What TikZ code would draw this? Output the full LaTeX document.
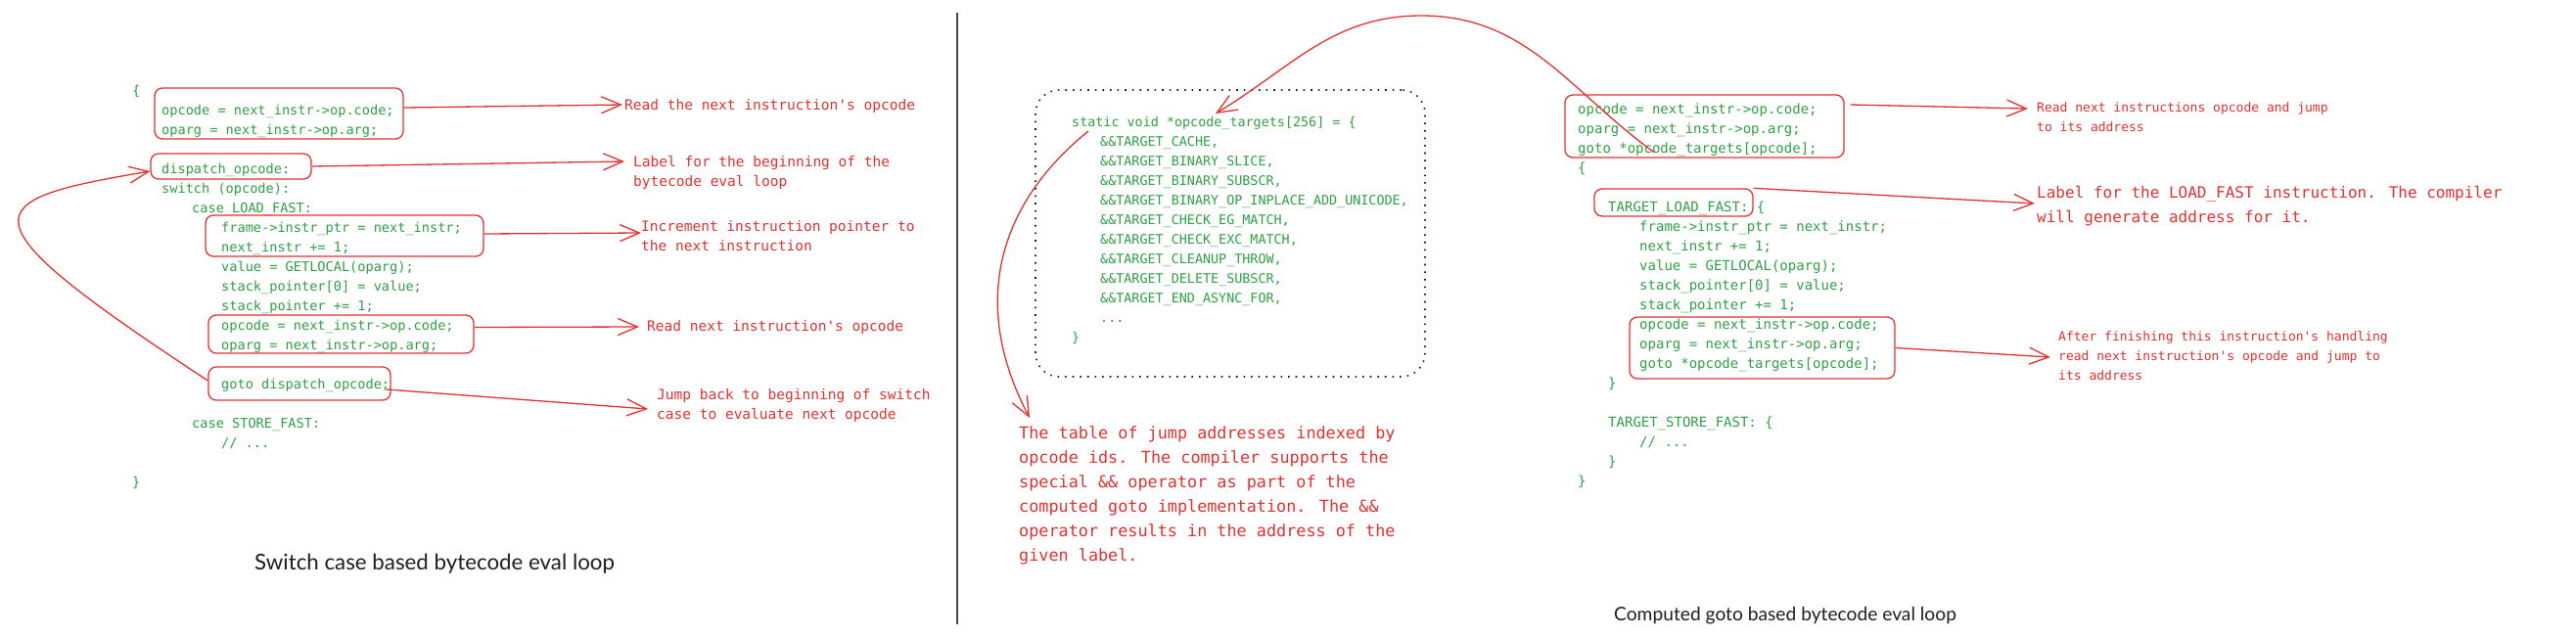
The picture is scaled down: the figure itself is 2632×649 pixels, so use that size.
\documentclass[tikz,border=0pt]{standalone}
\usepackage{fontspec}
\usepackage{xcolor}
\usepackage{tikz}
\usetikzlibrary{arrows.meta, positioning}
\newfontfamily\monofnt{DejaVu Sans Mono}[Ligatures=TeXOff]
\newfontfamily\titlefnt{Lato}
\definecolor{codegreen}{RGB}{47, 158, 68}
\definecolor{notered}{RGB}{224, 49, 49}
\definecolor{inkblack}{RGB}{30, 30, 30}
\definecolor{rulegray}{RGB}{70, 70, 70}

\begin{document}
\begin{tikzpicture}[
        x=1pt, y=1pt,
        code/.style={anchor=north west, inner sep=0pt, align=left, text=codegreen},
        note/.style={anchor=north west, inner sep=0pt, align=left, text=notered},
        markbox/.style={draw=notered, line width=1.3pt, rounded corners=8pt, inner sep=0pt},
        tablebox/.style={draw=inkblack, line width=1.6pt, dash pattern=on 1.6pt off 6pt, rounded corners=24pt, inner sep=0pt},
        pointer/.style={draw=notered, line width=1.3pt, -{Straight Barb[length=20pt, width=17pt]}},
        title/.style={anchor=west, inner sep=0pt, text=inkblack}
    ]
    \useasboundingbox (0,0) rectangle (2632,-649);

    % Switch case version
    \node[code, font=\monofnt\fontsize{13.6}{20}\selectfont] (lcode) at (135,-83) {%
        \strut\{\\
        \hspace*{30pt}opcode = next\_instr->op.code;\\
        \hspace*{30pt}oparg = next\_instr->op.arg;\\
        \strut\\
        \hspace*{30pt}dispatch\_opcode:\\
        \hspace*{30pt}switch (opcode):\\
        \hspace*{61pt}case LOAD\_FAST:\\
        \hspace*{91pt}frame->instr\_ptr = next\_instr;\\
        \hspace*{91pt}next\_instr += 1;\\
        \hspace*{91pt}value = GETLOCAL(oparg);\\
        \hspace*{91pt}stack\_pointer[0] = value;\\
        \hspace*{91pt}stack\_pointer += 1;\\
        \hspace*{91pt}opcode = next\_instr->op.code;\\
        \hspace*{91pt}oparg = next\_instr->op.arg;\\
        \strut\\
        \hspace*{91pt}goto dispatch\_opcode;\\
        \strut\\
        \hspace*{61pt}case STORE\_FAST:\\
        \hspace*{91pt}// ...\\
        \strut\\
        \}};

    \node[note, font=\monofnt\fontsize{14.5}{20}\selectfont] (a1) at (638,-98) {\strut Read the next instruction's opcode};
    \node[note, font=\monofnt\fontsize{14.5}{20}\selectfont] (a2) at (647,-156) {\strut Label for the beginning of the\\bytecode eval loop};
    \node[note, font=\monofnt\fontsize{14.5}{20}\selectfont] (a3) at (655,-222) {\strut Increment instruction pointer to\\the next instruction};
    \node[note, font=\monofnt\fontsize{14.5}{20}\selectfont] (a4) at (661,-324) {\strut Read next instruction's opcode};
    \node[note, font=\monofnt\fontsize{14.5}{20}\selectfont] (a5) at (671,-394) {\strut Jump back to beginning of switch\\case to evaluate next opcode};

    \node[title, font=\titlefnt\fontsize{22.3}{26}\selectfont] (t1) at (260,-576) {Switch case based bytecode eval loop};

    % Divider
    \draw[rulegray, line width=1.5pt] (978,-13) -- (978,-638);

    % Jump table
    \node[tablebox, minimum width=398, minimum height=293] (tabbox) at (1257,-238.5) {};
    \node[code, font=\monofnt\fontsize{13.4}{20}\selectfont] (tcode) at (1095,-115) {%
        \strut static void *opcode\_targets[256] = \{\\
        \hspace*{29pt}\&\&TARGET\_CACHE,\\
        \hspace*{29pt}\&\&TARGET\_BINARY\_SLICE,\\
        \hspace*{29pt}\&\&TARGET\_BINARY\_SUBSCR,\\
        \hspace*{29pt}\&\&TARGET\_BINARY\_OP\_INPLACE\_ADD\_UNICODE,\\
        \hspace*{29pt}\&\&TARGET\_CHECK\_EG\_MATCH,\\
        \hspace*{29pt}\&\&TARGET\_CHECK\_EXC\_MATCH,\\
        \hspace*{29pt}\&\&TARGET\_CLEANUP\_THROW,\\
        \hspace*{29pt}\&\&TARGET\_DELETE\_SUBSCR,\\
        \hspace*{29pt}\&\&TARGET\_END\_ASYNC\_FOR,\\
        \hspace*{29pt}...\\
        \}};
    \node[note, font=\monofnt\fontsize{16.8}{25}\selectfont] (tnote) at (1041,-431) {%
        \strut The table of jump addresses indexed by\\
        opcode ids. The compiler supports the\\
        special \&\& operator as part of the\\
        computed goto implementation. The \&\&\\
        operator results in the address of the\\
        given label.};

    % Computed goto version
    \node[code, font=\monofnt\fontsize{14}{20}\selectfont] (rcode) at (1612,-102) {%
        \strut opcode = next\_instr->op.code;\\
        oparg = next\_instr->op.arg;\\
        goto *opcode\_targets[opcode];\\
        \{\\
        \strut\\
        \hspace*{31pt}TARGET\_LOAD\_FAST: \{\\
        \hspace*{63pt}frame->instr\_ptr = next\_instr;\\
        \hspace*{63pt}next\_instr += 1;\\
        \hspace*{63pt}value = GETLOCAL(oparg);\\
        \hspace*{63pt}stack\_pointer[0] = value;\\
        \hspace*{63pt}stack\_pointer += 1;\\
        \hspace*{63pt}opcode = next\_instr->op.code;\\
        \hspace*{63pt}oparg = next\_instr->op.arg;\\
        \hspace*{63pt}goto *opcode\_targets[opcode];\\
        \hspace*{31pt}\}\\
        \strut\\
        \hspace*{31pt}TARGET\_STORE\_FAST: \{\\
        \hspace*{63pt}// ...\\
        \hspace*{31pt}\}\\
        \}};

    \node[note, font=\monofnt\fontsize{13}{20}\selectfont] (n1) at (2081,-100.5) {\strut Read next instructions opcode and jump\\to its address};
    \node[note, font=\monofnt\fontsize{16}{25}\selectfont] (n2) at (2081,-185) {\strut Label for the LOAD\_FAST instruction. The compiler\\will generate address for it.};
    \node[note, font=\monofnt\fontsize{13}{20}\selectfont] (n3) at (2103,-334.5) {\strut After finishing this instruction's handling\\read next instruction's opcode and jump to\\its address};

    \node[title, font=\titlefnt\fontsize{19.2}{24}\selectfont] (t2) at (1649,-629) {Computed goto based bytecode eval loop};

    % Highlight boxes
    \foreach \nm/\cx/\cy/\bw/\bh in {b1/285/116/254/52, b2/236/170/164/26, b3/352/241/284/42,
            b4/348.5/341.5/271/39, b5/306/392/186/34, r1/1741.5/129/285/64,
            r2/1710/207/162/28, r3/1800.5/355.5/271/63} {
        \node[markbox, minimum width=\bw, minimum height=\bh] (\nm) at (\cx,-\cy) {};
    }

    % Arrows: left side
    \draw[pointer] ([yshift=6pt]b1.east) -- ([xshift=-2pt, yshift=-9pt]a1.north west);
    \draw[pointer] (b2.east) -- ([xshift=-9pt, yshift=-9pt]a2.north west);
    \draw[pointer] ([yshift=2pt]b3.east) -- ([yshift=-16pt]a3.north west);
    \draw[pointer] ([yshift=7pt]b4.east) -- ([xshift=-8pt, yshift=-10pt]a4.north west);
    \draw[pointer] ([xshift=-5pt, yshift=-6pt]b5.east) -- ([xshift=-9pt, yshift=-24pt]a5.north west);
    \draw[pointer] ([yshift=3pt]b5.west) .. controls (-45,-220) and (-25,-205) .. ([yshift=-5pt]b2.west);

    % Arrows: table
    \coordinate (tabsrc) at (1112,-134);
    \coordinate (tabdst) at (1242,-116);
    \draw[pointer] (tabsrc) .. controls (1030,-200) and (985,-300) .. ([xshift=11pt, yshift=4pt]tnote.north west);
    \draw[pointer] ([xshift=-51.5pt, yshift=6pt]r1.south) to[out=144, in=0] (1452,-16) to[out=180, in=31] (tabdst);

    % Arrows: right side
    \draw[pointer] ([xshift=6pt, yshift=22pt]r1.east) -- ([xshift=-9pt, yshift=-10.5pt]n1.north west);
    \draw[pointer] (r2.north east) -- ([xshift=-2pt, yshift=-23pt]n2.north west);
    \draw[pointer] (r3.east) -- ([xshift=-8pt, yshift=-30.5pt]n3.north west);
\end{tikzpicture}
\end{document}
